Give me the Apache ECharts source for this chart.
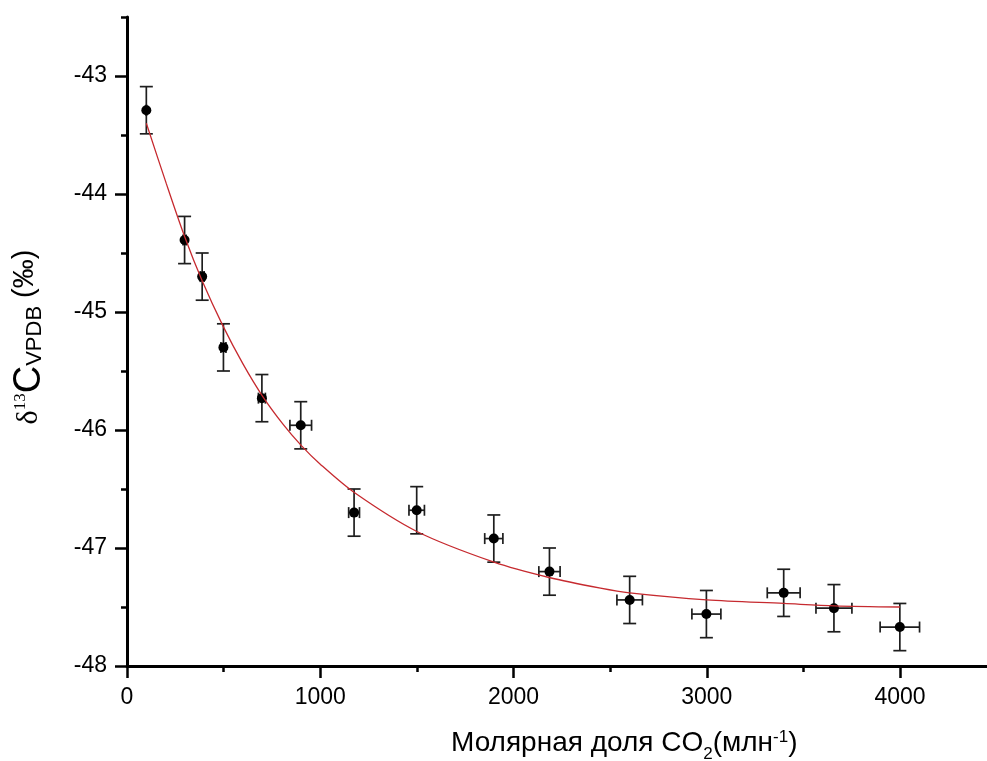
<!DOCTYPE html>
<html>
<head>
<meta charset="utf-8">
<script src="https://cdn.jsdelivr.net/npm/echarts@6/dist/echarts.min.js"></script>
<style>
html,body{margin:0;padding:0;background:#fff;}
#main{width:987px;height:761px;}
</style>
</head>
<body>
<div id="main"></div>
<script>
// Measured points
const xVals = [100, 298, 389, 499, 698, 899, 1175, 1499, 1898, 2186, 2601, 2998, 3398, 3658, 3999];
const yVals = [-43.29, -44.39, -44.70, -45.30, -45.73, -45.96, -46.70, -46.68, -46.92, -47.20, -47.44, -47.56, -47.38, -47.51, -47.67];
const yErr = [0.2, 0.2, 0.2, 0.2, 0.2, 0.2, 0.2, 0.2, 0.2, 0.2, 0.2, 0.2, 0.2, 0.2, 0.2];
const xErr = [2, 8, 10, 13, 18, 56, 28, 40, 47, 55, 66, 75, 85, 93, 102];

// Fitted curve
const fitX = [100, 203, 298, 390, 497, 600, 700, 807, 901, 1000, 1176, 1500, 1899, 2184, 2450, 2601, 3000, 3399, 3660, 4000];
const fitY = [-43.40, -43.91, -44.36, -44.74, -45.12, -45.44, -45.71, -45.95, -46.13, -46.29, -46.53, -46.86, -47.12, -47.25, -47.34, -47.38, -47.44, -47.47, -47.49, -47.50];

// Ticks
const xMajorTicks = [0, 1000, 2000, 3000, 4000];
const xMinorTicks = [500, 1500, 2500, 3500];
const yMajorTicks = [-48, -47, -46, -45, -44, -43];
const yMinorTicks = [-47.5, -46.5, -45.5, -44.5, -43.5, -42.5];

const FONT = 'Liberation Sans';
const SERIF = 'Liberation Serif';

const pts = xVals.map((x, i) => [x, yVals[i]]);
const errData = xVals.map((x, i) => [x, yVals[i], yErr[i], xErr[i]]);
const fitData = fitX.map((x, i) => [x, fitY[i]]);

const chart = echarts.init(document.getElementById('main'), null, {renderer: 'canvas'});

const X_MIN = 0, X_MAX = 4450, Y_MIN = -48, Y_MAX = -42.5;

function majorAxis(ticks, min, max) {
  return {
    type: 'value', min: min, max: max,
    splitLine: {show: false},
    axisLine: {show: true, onZero: false, lineStyle: {color: '#000', width: 3}},
    axisTick: {show: true, length: 12, customValues: ticks, lineStyle: {color: '#000', width: 2.5}},
    minorTick: {show: false},
    axisLabel: {fontSize: 23, color: '#000', fontFamily: FONT, margin: 20, customValues: ticks,
      formatter: function (v) { return String(v); }}
  };
}
function minorAxis(ticks, min, max) {
  return {
    type: 'value', min: min, max: max,
    splitLine: {show: false},
    axisLine: {show: false, onZero: false},
    axisTick: {show: true, length: 6, customValues: ticks, lineStyle: {color: '#000', width: 2.5}},
    axisLabel: {show: false}
  };
}

chart.setOption({
  backgroundColor: '#fff',
  animation: false,
  grid: {left: 127, right: 0, top: 17, bottom: 95, containLabel: false},
  xAxis: [
    Object.assign(majorAxis(xMajorTicks, X_MIN, X_MAX), {position: 'bottom'}),
    Object.assign(minorAxis(xMinorTicks, X_MIN, X_MAX), {position: 'bottom'})
  ],
  yAxis: [
    Object.assign(majorAxis(yMajorTicks, Y_MIN, Y_MAX), {position: 'left'}),
    Object.assign(minorAxis(yMinorTicks, Y_MIN, Y_MAX), {position: 'left'})
  ],
  graphic: [
    {
      type: 'text',
      x: 451, y: 729,
      style: {
        text: '{m|Молярная доля CO}{sub|2}{m|(млн}{sup|-1}{m|)}',
        align: 'left', verticalAlign: 'top',
        rich: {
          m: {fontSize: 28, lineHeight: 32, fontFamily: FONT, fill: '#000', verticalAlign: 'top'},
          sub: {fontSize: 17, lineHeight: 20, fontFamily: FONT, fill: '#000', verticalAlign: 'top', padding: [17, 0, 0, 0]},
          sup: {fontSize: 17, lineHeight: 18, fontFamily: FONT, fill: '#000', verticalAlign: 'top', padding: [0, 0, 0, 0]}
        }
      }
    },
    {
      type: 'text',
      x: 10, y: 337,
      rotation: Math.PI / 2,
      style: {
        text: '{d|δ}{s|13}{c|C}{v|VPDB}{p| (‰)}',
        align: 'center', verticalAlign: 'top',
        rich: {
          d: {fontSize: 30, lineHeight: 34, fontFamily: SERIF, fill: '#000', verticalAlign: 'top', padding: [4.5, 0, 0, 0]},
          s: {fontSize: 17, lineHeight: 20, fontFamily: SERIF, fill: '#000', verticalAlign: 'top', padding: [2, 0, 0, 0]},
          c: {fontSize: 38, lineHeight: 42, fontFamily: FONT, fill: '#000', verticalAlign: 'top', padding: [0.8, 0, 0, 0]},
          v: {fontSize: 22, lineHeight: 26, fontFamily: FONT, fill: '#000', verticalAlign: 'top', padding: [14.4, 0, 0, 0]},
          p: {fontSize: 29, lineHeight: 33, fontFamily: FONT, fill: '#000', verticalAlign: 'top', padding: [0, 0, 0, 0]}
        }
      }
    }
  ],
  series: [
    {
      type: 'custom',
      name: 'err',
      data: errData,
      encode: {x: 0, y: 1},
      z: 2,
      renderItem: function (params, api) {
        const x = api.value(0), y = api.value(1), ye = api.value(2), xe = api.value(3);
        const top = api.coord([x, y + ye]);
        const bot = api.coord([x, y - ye]);
        const l = api.coord([x - xe, y]);
        const r = api.coord([x + xe, y]);
        const cap = 6.5, capx = 5.5;
        const st = {stroke: '#1e1e1e', lineWidth: 1.7, fill: null};
        return {
          type: 'group',
          children: [
            {type: 'line', shape: {x1: top[0], y1: top[1], x2: bot[0], y2: bot[1]}, style: st},
            {type: 'line', shape: {x1: top[0] - cap, y1: top[1], x2: top[0] + cap, y2: top[1]}, style: st},
            {type: 'line', shape: {x1: bot[0] - cap, y1: bot[1], x2: bot[0] + cap, y2: bot[1]}, style: st},
            {type: 'line', shape: {x1: l[0], y1: l[1], x2: r[0], y2: r[1]}, style: st},
            {type: 'line', shape: {x1: l[0], y1: l[1] - capx, x2: l[0], y2: l[1] + capx}, style: st},
            {type: 'line', shape: {x1: r[0], y1: r[1] - capx, x2: r[0], y2: r[1] + capx}, style: st}
          ]
        };
      }
    },
    {
      type: 'scatter',
      data: pts,
      symbol: 'circle',
      symbolSize: 10,
      itemStyle: {color: '#000', opacity: 1},
      z: 3
    },
    {
      type: 'line',
      data: fitData,
      smooth: 0.3,
      showSymbol: false,
      symbol: 'none',
      lineStyle: {color: '#c62a2f', width: 1.3},
      z: 4
    }
  ]
});
</script>
</body>
</html>
